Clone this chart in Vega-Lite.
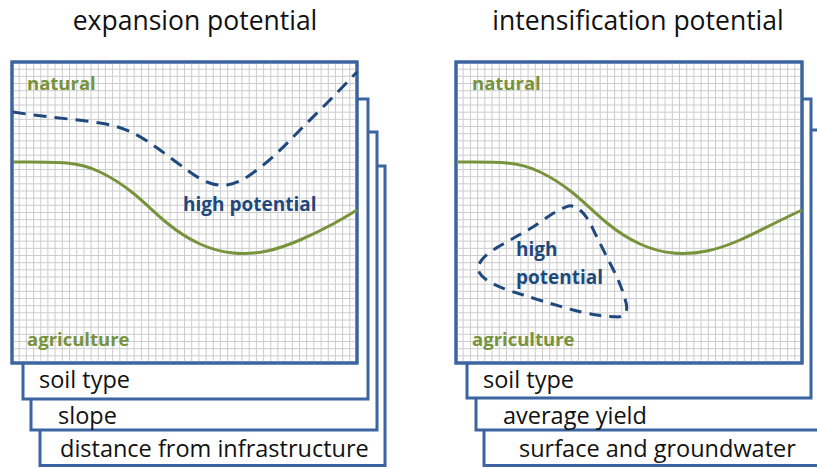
{
  "$schema": "https://vega.github.io/schema/vega-lite/v6.json",
  "width": 817,
  "height": 468,
  "autosize": {"type": "fit", "contains": "padding"},
  "padding": 0,
  "background": "white",
  "config": {"view": {"stroke": null}},
  "datasets": {
    "boxes": [
      {"panel": "L", "layer": 4, "x1": 40, "x2": 385, "y1": 166, "y2": 465.5},
      {"panel": "L", "layer": 3, "x1": 31, "x2": 377, "y1": 132, "y2": 430},
      {"panel": "L", "layer": 2, "x1": 23, "x2": 368, "y1": 99, "y2": 399},
      {"panel": "L", "layer": 1, "x1": 12, "x2": 357, "y1": 62, "y2": 363},
      {"panel": "R", "layer": 4, "x1": 484, "x2": 830, "y1": 166, "y2": 465.5},
      {"panel": "R", "layer": 3, "x1": 476, "x2": 825, "y1": 130, "y2": 430},
      {"panel": "R", "layer": 2, "x1": 467, "x2": 811, "y1": 99, "y2": 398},
      {"panel": "R", "layer": 1, "x1": 456, "x2": 802, "y1": 62, "y2": 363}
    ],
    "vx": [19.2, 26.4, 33.6, 40.8, 47.9, 55.1, 62.3, 69.5, 76.7, 83.9, 91.1, 98.3, 105.4, 112.6, 119.8, 127, 134.2, 141.4, 148.6, 155.8, 162.9, 170.1, 177.3, 184.5, 191.7, 198.9, 206.1, 213.3, 220.4, 227.6, 234.8, 242, 249.2, 256.4, 263.6, 270.8, 277.9, 285.1, 292.3, 299.5, 306.7, 313.9, 321.1, 328.3, 335.4, 342.6, 349.8,
      463.2, 470.4, 477.6, 484.8, 492.0, 499.3, 506.5, 513.7, 520.9, 528.1, 535.3, 542.5, 549.7, 556.9, 564.1, 571.3, 578.5, 585.8, 593.0, 600.2, 607.4, 614.6, 621.8, 629.0, 636.2, 643.4, 650.6, 657.8, 665.0, 672.3, 679.5, 686.7, 693.9, 701.1, 708.3, 715.5, 722.7, 729.9, 737.1, 744.3, 751.5, 758.7, 765.9, 773.2, 780.4, 787.6, 794.8],
    "hy": [69.2, 76.3, 83.5, 90.7, 97.8, 105, 112.2, 119.3, 126.5, 133.7, 140.8, 148, 155.2, 162.3, 169.5, 176.7, 183.8, 191, 198.2, 205.3, 212.5, 219.7, 226.8, 234, 241.2, 248.3, 255.5, 262.7, 269.8, 277, 284.2, 291.3, 298.5, 305.7, 312.8, 320, 327.2, 334.3, 341.5, 348.7, 355.8],
    "green": [
      {"panel": "L", "x": 13, "y": 162}, {"panel": "L", "x": 67, "y": 163}, {"panel": "L", "x": 100, "y": 172},
      {"panel": "L", "x": 133, "y": 193}, {"panel": "L", "x": 167, "y": 223}, {"panel": "L", "x": 200, "y": 244},
      {"panel": "L", "x": 233, "y": 253}, {"panel": "L", "x": 267, "y": 251}, {"panel": "L", "x": 300, "y": 240},
      {"panel": "L", "x": 333, "y": 224}, {"panel": "L", "x": 357, "y": 210},
      {"panel": "R", "x": 458, "y": 162}, {"panel": "R", "x": 507, "y": 163}, {"panel": "R", "x": 540, "y": 172},
      {"panel": "R", "x": 573, "y": 193}, {"panel": "R", "x": 607, "y": 223}, {"panel": "R", "x": 640, "y": 244},
      {"panel": "R", "x": 673, "y": 253}, {"panel": "R", "x": 707, "y": 251}, {"panel": "R", "x": 740, "y": 240},
      {"panel": "R", "x": 773, "y": 224}, {"panel": "R", "x": 802, "y": 210}
    ],
    "dashL": [
      {"x": 13, "y": 112}, {"x": 50, "y": 117}, {"x": 100, "y": 123}, {"x": 133, "y": 133}, {"x": 160, "y": 150},
      {"x": 187, "y": 170}, {"x": 207, "y": 182}, {"x": 227, "y": 185}, {"x": 250, "y": 175}, {"x": 277, "y": 153},
      {"x": 300, "y": 130}, {"x": 327, "y": 103}, {"x": 357, "y": 72}
    ],
    "blob": [
      {"i": 1, "x": 571.7, "y": 206}, {"i": 2, "x": 580, "y": 210}, {"i": 3, "x": 588.3, "y": 220},
      {"i": 4, "x": 596.7, "y": 236.7}, {"i": 5, "x": 606.7, "y": 256.7}, {"i": 6, "x": 616.7, "y": 276.7},
      {"i": 7, "x": 623.3, "y": 293.3}, {"i": 8, "x": 626.7, "y": 308.3}, {"i": 9, "x": 621.7, "y": 316},
      {"i": 10, "x": 613.3, "y": 316.7}, {"i": 11, "x": 596.7, "y": 315}, {"i": 12, "x": 573.3, "y": 310},
      {"i": 13, "x": 550, "y": 303.3}, {"i": 14, "x": 523.3, "y": 295}, {"i": 15, "x": 503.3, "y": 288.3},
      {"i": 16, "x": 486.7, "y": 280}, {"i": 17, "x": 478.3, "y": 270}, {"i": 18, "x": 481.7, "y": 260},
      {"i": 19, "x": 493.3, "y": 250}, {"i": 20, "x": 513.3, "y": 238.3}, {"i": 21, "x": 533.3, "y": 226.7},
      {"i": 22, "x": 553.3, "y": 213.3}, {"i": 23, "x": 566.7, "y": 206.7}
    ],
    "titles": [
      {"label": "expansion potential", "x": 195, "y": 22},
      {"label": "intensification potential", "x": 638, "y": 22}
    ],
    "greenText": [
      {"label": "natural", "x": 27, "y": 84},
      {"label": "agriculture", "x": 27, "y": 340},
      {"label": "natural", "x": 472, "y": 84},
      {"label": "agriculture", "x": 472, "y": 340}
    ],
    "blueText": [
      {"label": "high potential", "x": 183, "y": 205},
      {"label": "high", "x": 516, "y": 250},
      {"label": "potential", "x": 516, "y": 278}
    ],
    "boxText": [
      {"label": "soil type", "x": 39, "y": 381},
      {"label": "slope", "x": 58, "y": 417},
      {"label": "distance from infrastructure", "x": 60, "y": 450},
      {"label": "soil type", "x": 483, "y": 381},
      {"label": "average yield", "x": 503, "y": 417},
      {"label": "surface and groundwater", "x": 519, "y": 450}
    ]
  },
  "encoding": {
    "x": {"type": "quantitative", "scale": {"domain": [0, 817], "nice": false, "zero": false}, "axis": null},
    "y": {"type": "quantitative", "scale": {"domain": [0, 468], "nice": false, "zero": false, "reverse": true}, "axis": null}
  },
  "layer": [
    {
      "data": {"name": "boxes"},
      "mark": {"type": "rect", "fill": "white", "stroke": "#3b64a0", "strokeWidth": 3, "clip": true},
      "encoding": {
        "x": {"field": "x1", "type": "quantitative"},
        "x2": {"field": "x2"},
        "y": {"field": "y1", "type": "quantitative"},
        "y2": {"field": "y2"}
      }
    },
    {
      "data": {"name": "vx"},
      "mark": {"type": "rule", "stroke": "#cccccc", "strokeWidth": 1},
      "encoding": {
        "x": {"field": "data", "type": "quantitative"},
        "y": {"datum": 62},
        "y2": {"datum": 363}
      }
    },
    {
      "data": {"name": "hy"},
      "mark": {"type": "rule", "stroke": "#cccccc", "strokeWidth": 1},
      "encoding": {
        "y": {"field": "data", "type": "quantitative"},
        "x": {"datum": 12},
        "x2": {"datum": 357}
      }
    },
    {
      "data": {"name": "hy"},
      "mark": {"type": "rule", "stroke": "#cccccc", "strokeWidth": 1},
      "encoding": {
        "y": {"field": "data", "type": "quantitative"},
        "x": {"datum": 456},
        "x2": {"datum": 802}
      }
    },
    {
      "data": {"name": "boxes"},
      "transform": [{"filter": "datum.layer == 1"}],
      "mark": {"type": "rect", "fill": null, "fillOpacity": 0, "stroke": "#3b64a0", "strokeWidth": 3},
      "encoding": {
        "x": {"field": "x1", "type": "quantitative"},
        "x2": {"field": "x2"},
        "y": {"field": "y1", "type": "quantitative"},
        "y2": {"field": "y2"}
      }
    },
    {
      "data": {"name": "green"},
      "mark": {"type": "line", "color": "#77933c", "strokeWidth": 3, "interpolate": "natural"},
      "encoding": {
        "x": {"field": "x", "type": "quantitative"},
        "y": {"field": "y", "type": "quantitative"},
        "detail": {"field": "panel"}
      }
    },
    {
      "data": {"name": "dashL"},
      "mark": {"type": "line", "color": "#1f497d", "strokeWidth": 3, "strokeDash": [13, 8], "interpolate": "natural"},
      "encoding": {
        "x": {"field": "x", "type": "quantitative"},
        "y": {"field": "y", "type": "quantitative"}
      }
    },
    {
      "data": {"name": "blob"},
      "mark": {"type": "line", "color": "#1f497d", "strokeWidth": 3, "strokeDash": [12, 8], "interpolate": "cardinal-closed"},
      "encoding": {
        "x": {"field": "x", "type": "quantitative"},
        "y": {"field": "y", "type": "quantitative"},
        "order": {"field": "i", "type": "quantitative"}
      }
    },
    {
      "data": {"name": "titles"},
      "mark": {"type": "text", "font": "Open Sans", "fontSize": 26.5, "color": "#111111", "align": "center", "baseline": "middle"},
      "encoding": {
        "x": {"field": "x", "type": "quantitative"},
        "y": {"field": "y", "type": "quantitative"},
        "text": {"field": "label"}
      }
    },
    {
      "data": {"name": "greenText"},
      "mark": {"type": "text", "font": "Open Sans", "fontSize": 18.5, "fontWeight": "bold", "color": "#77933c", "align": "left", "baseline": "middle"},
      "encoding": {
        "x": {"field": "x", "type": "quantitative"},
        "y": {"field": "y", "type": "quantitative"},
        "text": {"field": "label"}
      }
    },
    {
      "data": {"name": "blueText"},
      "mark": {"type": "text", "font": "Open Sans", "fontSize": 19, "fontWeight": "bold", "color": "#1f497d", "align": "left", "baseline": "middle"},
      "encoding": {
        "x": {"field": "x", "type": "quantitative"},
        "y": {"field": "y", "type": "quantitative"},
        "text": {"field": "label"}
      }
    },
    {
      "data": {"name": "boxText"},
      "mark": {"type": "text", "font": "Open Sans", "fontSize": 23.5, "color": "#111111", "align": "left", "baseline": "middle"},
      "encoding": {
        "x": {"field": "x", "type": "quantitative"},
        "y": {"field": "y", "type": "quantitative"},
        "text": {"field": "label"}
      }
    }
  ]
}
